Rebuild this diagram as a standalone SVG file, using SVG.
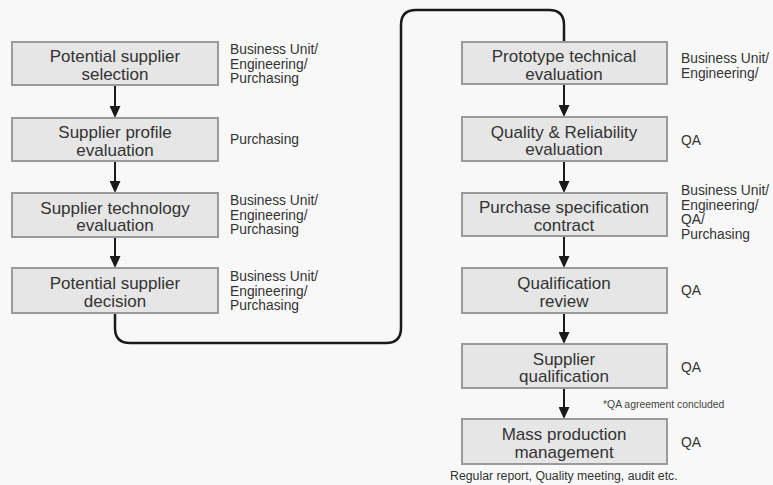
<svg xmlns="http://www.w3.org/2000/svg" width="773" height="485" viewBox="0 0 773 485">
<defs>
<style>
.box{fill:#e6e6e6;stroke:#9a9a9a;stroke-width:2}
.nt{font-family:"Liberation Sans",Arial,sans-serif;font-size:17px;fill:#333;text-anchor:middle}
.rt{font-family:"Liberation Sans",Arial,sans-serif;font-size:13.8px;fill:#333}
.arr{stroke:#1a1a1a;stroke-width:2;fill:none;marker-end:url(#ah)}
.loop{stroke:#1a1a1a;stroke-width:2.5;fill:none}
</style>
<marker id="ah" markerUnits="userSpaceOnUse" markerWidth="12" markerHeight="11" viewBox="0 0 12 11" refX="0" refY="5.5" orient="auto">
<path d="M0,0 L12,5.5 L0,11 z" fill="#1a1a1a"/>
</marker>
</defs>
<rect width="773" height="485" fill="#f8f8f8"/>
<g id="connectors">
<line class="arr" x1="115" y1="85" x2="115" y2="106"/>
<line class="arr" x1="115" y1="161" x2="115" y2="181"/>
<line class="arr" x1="115" y1="237" x2="115" y2="256"/>
<line class="arr" x1="564" y1="84" x2="564" y2="105"/>
<line class="arr" x1="564" y1="161" x2="564" y2="181"/>
<line class="arr" x1="564" y1="236" x2="564" y2="256"/>
<line class="arr" x1="564" y1="313" x2="564" y2="332"/>
<line class="arr" x1="564" y1="388" x2="564" y2="407"/>
<path class="loop" d="M115,313 V328 Q115,343 130,343 H386 Q401,343 401,328 V25 Q401,10 416,10 H549 Q564,10 564,25 V42"/>
</g>
<g id="n1">
<rect class="box" x="12" y="42" width="206" height="43"/>
<text class="nt" x="115" y="62">Potential supplier</text>
<text class="nt" x="115" y="79.5">selection</text>
<text class="rt" x="230" y="54">Business Unit/</text>
<text class="rt" x="230" y="68.5">Engineering/</text>
<text class="rt" x="230" y="83">Purchasing</text>
</g>
<g id="n2">
<rect class="box" x="12" y="118" width="206" height="43"/>
<text class="nt" x="115" y="138">Supplier profile</text>
<text class="nt" x="115" y="155.5">evaluation</text>
<text class="rt" x="230" y="143.5">Purchasing</text>
</g>
<g id="n3">
<rect class="box" x="12" y="193" width="206" height="44"/>
<text class="nt" x="115" y="213.5">Supplier technology</text>
<text class="nt" x="115" y="231">evaluation</text>
<text class="rt" x="230" y="205">Business Unit/</text>
<text class="rt" x="230" y="219.5">Engineering/</text>
<text class="rt" x="230" y="234">Purchasing</text>
</g>
<g id="n4">
<rect class="box" x="12" y="268" width="206" height="45"/>
<text class="nt" x="115" y="289">Potential supplier</text>
<text class="nt" x="115" y="306.5">decision</text>
<text class="rt" x="230" y="281">Business Unit/</text>
<text class="rt" x="230" y="295.5">Engineering/</text>
<text class="rt" x="230" y="310">Purchasing</text>
</g>
<g id="n5">
<rect class="box" x="462" y="42" width="205" height="42"/>
<text class="nt" x="564" y="62">Prototype technical</text>
<text class="nt" x="564" y="79.5">evaluation</text>
<text class="rt" x="681" y="63">Business Unit/</text>
<text class="rt" x="681" y="77.5">Engineering/</text>
</g>
<g id="n6">
<rect class="box" x="462" y="117" width="205" height="44"/>
<text class="nt" x="564" y="137.5">Quality &amp; Reliability</text>
<text class="nt" x="564" y="155">evaluation</text>
<text class="rt" x="681" y="145">QA</text>
</g>
<g id="n7">
<rect class="box" x="462" y="193" width="205" height="43"/>
<text class="nt" x="564" y="213">Purchase specification</text>
<text class="nt" x="564" y="230.5">contract</text>
<text class="rt" x="681" y="195">Business Unit/</text>
<text class="rt" x="681" y="209.5">Engineering/</text>
<text class="rt" x="681" y="224">QA/</text>
<text class="rt" x="681" y="238.5">Purchasing</text>
</g>
<g id="n8">
<rect class="box" x="462" y="268" width="205" height="45"/>
<text class="nt" x="564" y="289">Qualification</text>
<text class="nt" x="564" y="306.5">review</text>
<text class="rt" x="681" y="295">QA</text>
</g>
<g id="n9">
<rect class="box" x="462" y="344" width="205" height="44"/>
<text class="nt" x="564" y="364.5">Supplier</text>
<text class="nt" x="564" y="382">qualification</text>
<text class="rt" x="681" y="372">QA</text>
</g>
<g id="n10">
<rect class="box" x="462" y="419" width="205" height="45"/>
<text class="nt" x="564" y="440">Mass production</text>
<text class="nt" x="564" y="457.5">management</text>
<text class="rt" x="681" y="447">QA</text>
</g>
<text x="603" y="408" font-family="'Liberation Sans',Arial,sans-serif" font-size="10.4" fill="#444">*QA agreement concluded</text>
<text x="450" y="480" font-family="'Liberation Sans',Arial,sans-serif" font-size="12.3" fill="#333">Regular report, Quality meeting, audit etc.</text>
</svg>
